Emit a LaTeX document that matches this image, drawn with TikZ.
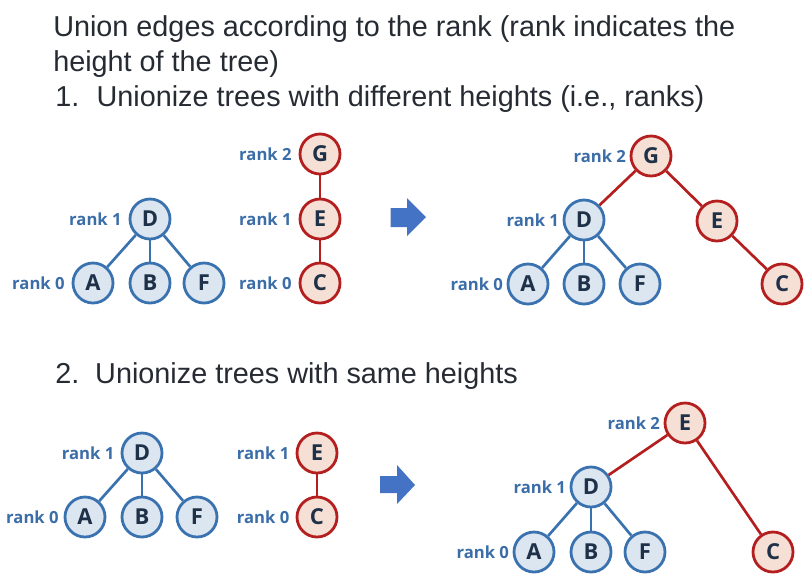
\documentclass[tikz,border=0pt]{standalone}
\usepackage{fontspec}
\setmainfont{Liberation Sans}
\newfontfamily\labelfont{Open Sans}
\usetikzlibrary{positioning}
\definecolor{titletext}{HTML}{262B33}
\definecolor{treeblue}{HTML}{3A72B0}
\definecolor{treebluelight}{HTML}{DCE6F1}
\definecolor{treered}{HTML}{B41E1E}
\definecolor{treeredlight}{HTML}{F6E0D5}
\definecolor{nodetext}{HTML}{1E3148}
\definecolor{ranktext}{HTML}{3B6DA8}
\definecolor{arrowblue}{HTML}{4472C4}
\tikzset{
  treenode/.style={circle, minimum size=30pt, inner sep=0pt, line width=2.1pt,
                   font=\labelfont\fontsize{16.5}{16.5}\selectfont\bfseries, text=nodetext},
  bnode/.style={treenode, draw=treeblue, fill=treebluelight},
  rnode/.style={treenode, draw=treered, fill=treeredlight},
  ranklabel/.style={inner sep=0pt, text=ranktext,
                    font=\labelfont\fontsize{12.5}{12.5}\selectfont\bfseries},
  bedge/.style={draw=treeblue, line width=2pt},
  redge/.style={draw=treered, line width=2pt},
  titleline/.style={anchor=base west, inner sep=0pt, text=titletext,
                    font=\fontsize{21.6}{21.6}\selectfont},
}

\begin{document}
\begin{tikzpicture}[x=0.75pt, y=-0.75pt]
    \useasboundingbox (0,0) rectangle (812,583);

    \node[titleline] (t1) at (53, 36.7) {Union edges according to the rank (rank indicates the};
    \node[titleline] (t2) at (53, 71.7) {height of the tree)};
    \node[titleline] (t3) at (55, 106) {\makebox[31pt][l]{1.}Unionize trees with different heights (i.e., ranks)};
    \node[titleline] (t4) at (55, 383) {\makebox[30pt][l]{2.}Unionize trees with same heights};

    % before union, different ranks
    \node[bnode] (D1) at (150, 219) {D};
    \node[bnode] (A1) at (93, 283) {A};
    \node[bnode] (B1) at (150, 283) {B};
    \node[bnode] (F1) at (204, 283) {F};
    \node[rnode] (G1) at (320, 154) {G};
    \node[rnode] (E1) at (320, 219) {E};
    \node[rnode] (C1) at (320, 283) {C};
    \node[ranklabel, left=5pt of D1] (lD1) {rank 1};
    \node[ranklabel, left=5pt of A1] (lA1) {rank 0};
    \node[ranklabel, left=5pt of G1] (lG1) {rank 2};
    \node[ranklabel, left=5pt of E1] (lE1) {rank 1};
    \node[ranklabel, left=5pt of C1] (lC1) {rank 0};
    \draw[bedge] (D1) -- (A1);
    \draw[bedge] (D1) -- (B1);
    \draw[bedge] (D1) -- (F1);
    \draw[redge] (G1) -- (E1);
    \draw[redge] (E1) -- (C1);

    \fill[arrowblue] (390.5,208) -- (407,208) -- (407,198) -- (426,217)
        -- (407,236) -- (407,227) -- (390.5,227) -- cycle;

    % after union, different ranks
    \node[rnode] (G2) at (651, 156) {G};
    \node[bnode] (D2) at (584, 220) {D};
    \node[rnode] (E2) at (717, 221) {E};
    \node[bnode] (A2) at (528, 284) {A};
    \node[bnode] (B2) at (584, 284) {B};
    \node[bnode] (F2) at (640, 284) {F};
    \node[rnode] (C2) at (782, 284) {C};
    \node[ranklabel, left=2.5pt of G2] (lG2) {rank 2};
    \node[ranklabel, left=2.5pt of D2] (lD2) {rank 1};
    \node[ranklabel, left=2.5pt of A2] (lA2) {rank 0};
    \draw[bedge] (D2) -- (A2);
    \draw[bedge] (D2) -- (B2);
    \draw[bedge] (D2) -- (F2);
    \draw[redge] (G2) -- (D2);
    \draw[redge] (G2) -- (E2);
    \draw[redge] (E2) -- (C2);

    % before union, same ranks
    \node[bnode] (D3) at (142, 453) {D};
    \node[bnode] (A3) at (85, 517) {A};
    \node[bnode] (B3) at (142, 517) {B};
    \node[bnode] (F3) at (197, 517) {F};
    \node[rnode] (E3) at (317, 453) {E};
    \node[rnode] (C3) at (317, 517) {C};
    \node[ranklabel, left=4.5pt of D3] (lD3) {rank 1};
    \node[ranklabel, left=3.5pt of A3] (lA3) {rank 0};
    \node[ranklabel, left=4.5pt of E3] (lE3) {rank 1};
    \node[ranklabel, left=4.5pt of C3] (lC3) {rank 0};
    \draw[bedge] (D3) -- (A3);
    \draw[bedge] (D3) -- (B3);
    \draw[bedge] (D3) -- (F3);
    \draw[redge] (E3) -- (C3);

    \fill[arrowblue] (380,476) -- (397,476) -- (397,465) -- (415,485)
        -- (397,504) -- (397,493) -- (380,493) -- cycle;

    % after union, same ranks
    \node[rnode] (E4) at (685, 423) {E};
    \node[bnode] (D4) at (591, 487) {D};
    \node[bnode] (A4) at (534, 552) {A};
    \node[bnode] (B4) at (591, 552) {B};
    \node[bnode] (F4) at (645, 552) {F};
    \node[rnode] (C4) at (773, 552) {C};
    \node[ranklabel, left=2.5pt of E4] (lE4) {rank 2};
    \node[ranklabel, left=2.5pt of D4] (lD4) {rank 1};
    \node[ranklabel, left=2.5pt of A4] (lA4) {rank 0};
    \draw[bedge] (D4) -- (A4);
    \draw[bedge] (D4) -- (B4);
    \draw[bedge] (D4) -- (F4);
    \draw[redge] (E4) -- (D4);
    \draw[redge] (E4) -- (C4);
\end{tikzpicture}
\end{document}
